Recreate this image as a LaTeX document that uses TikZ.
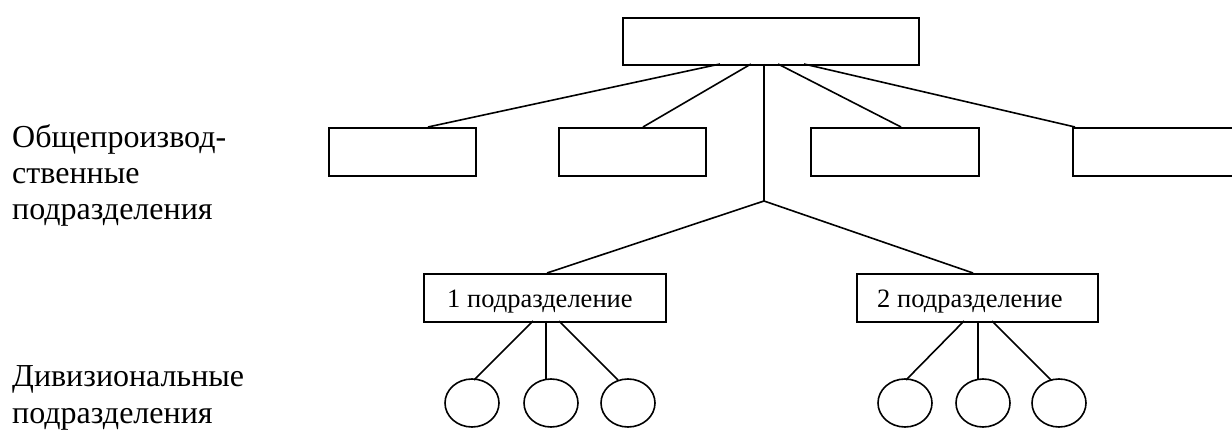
\documentclass[tikz,border=0pt]{standalone}
\usepackage{fontspec}
\setmainfont{Liberation Serif}
\usetikzlibrary{shapes.geometric}
\begin{document}
\begin{tikzpicture}[x=1pt,y=-1pt,
  ln/.style={line width=1.6pt},
  unitbox/.style={draw,line width=1.6pt,inner sep=0pt,anchor=north west},
  divbox/.style={draw,line width=1.6pt,inner sep=0pt,anchor=north west},
  sub/.style={draw,ellipse,line width=1.6pt,minimum width=54pt,minimum height=48pt,inner sep=0pt},
  side/.style={anchor=base west,align=left,font=\fontsize{32}{36}\selectfont,inner sep=0pt},
  boxtxt/.style={anchor=base west,font=\fontsize{26.5}{30}\selectfont,inner sep=0pt}]
\useasboundingbox (0,0) rectangle (1232,430);

% head office
\node[unitbox,minimum width=296pt,minimum height=47pt] (top) at (622,17) {};

% general production units
\node[unitbox,minimum width=147pt,minimum height=48pt] (g1) at (328,127) {};
\node[unitbox,minimum width=147pt,minimum height=48pt] (g2) at (558,127) {};
\node[unitbox,minimum width=168pt,minimum height=48pt] (g3) at (810,127) {};
\node[unitbox,minimum width=175pt,minimum height=48pt] (g4) at (1072,127) {};

% links from the head office
\coordinate (t1) at (720,64);
\coordinate (t2) at (751,64);
\coordinate (t3) at (764,64);
\coordinate (t4) at (778,64);
\coordinate (t5) at (804,64);
\coordinate (j) at (764,201);
\coordinate (g1t) at (428,127);
\coordinate (g2t) at (643,127);
\coordinate (g3t) at (901,127);
\coordinate (g4t) at (1075,127);
\draw[ln] (t1) -- (g1t);
\draw[ln] (t2) -- (g2t);
\draw[ln] (t4) -- (g3t);
\draw[ln] (t5) -- (g4t);
\draw[ln] (t3) -- (j);

% divisions
\node[divbox,minimum width=242pt,minimum height=48pt] (d1) at (423,273) {};
\node[divbox,minimum width=241pt,minimum height=48pt] (d2) at (856,273) {};
\node[boxtxt] (d1t) at (447,308) {1 подразделение};
\node[boxtxt] (d2t) at (877,308) {2 подразделение};
\coordinate (d1top) at (547,273);
\coordinate (d2top) at (973,273);
\draw[ln] (j) -- (d1top);
\draw[ln] (j) -- (d2top);

% subunits of division 1
\node[sub] (a1) at (472,403) {};
\node[sub] (a2) at (551,403) {};
\node[sub] (a3) at (628,403) {};
\draw[ln] (533,321) -- (474,380);
\draw[ln] (546,321) -- (546,379);
\draw[ln] (559,321) -- (618,380);

% subunits of division 2
\node[sub] (b1) at (905,403) {};
\node[sub] (b2) at (983,403) {};
\node[sub] (b3) at (1059,403) {};
\draw[ln] (964,321) -- (906,380);
\draw[ln] (978,321) -- (978,379);
\draw[ln] (992,321) -- (1051,380);

% row captions
\node[side] (c1) at (12,220) {Общепроизвод-\\ственные\\подразделения};
\node[side] (c2) at (12,423) {Дивизиональные\\подразделения};
\end{tikzpicture}
\end{document}
